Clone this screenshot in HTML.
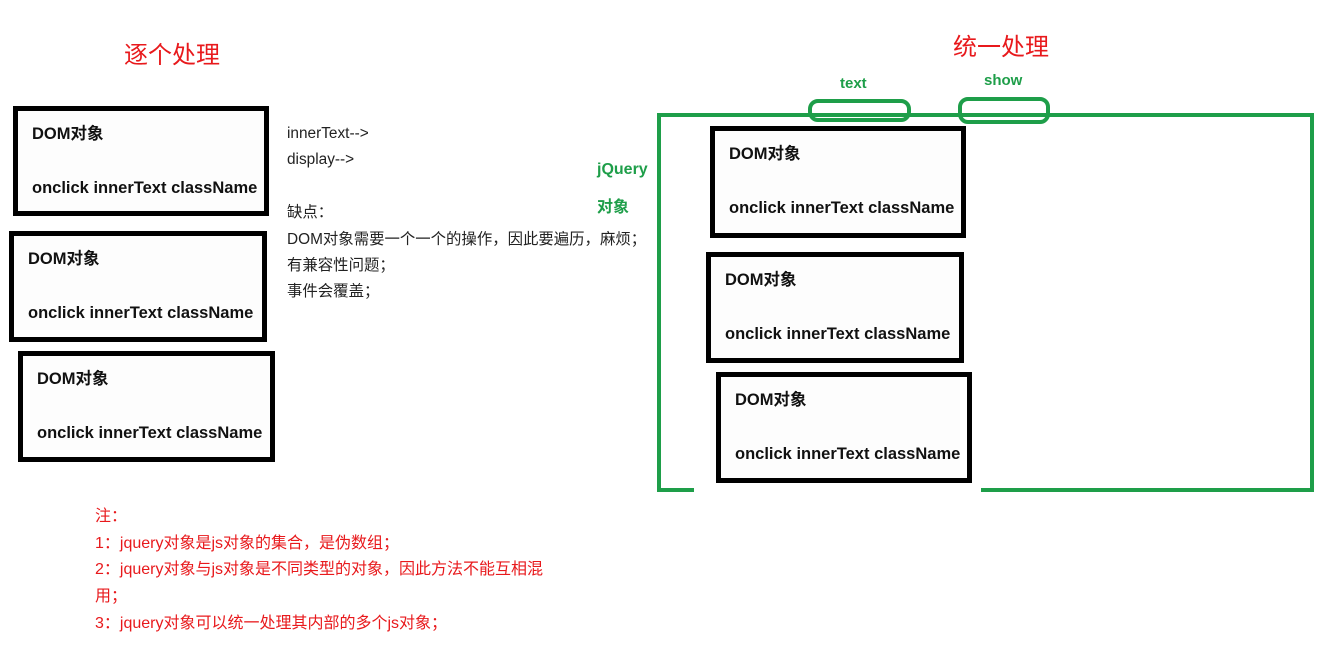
<!DOCTYPE html>
<html><head><meta charset="utf-8"><style>
body{margin:0;width:1329px;height:671px;background:#fff;position:relative;overflow:hidden;font-family:"Liberation Sans","Noto Sans CJK SC",sans-serif}
.a{position:absolute;white-space:nowrap}
.box{position:absolute;border:5px solid #000;box-sizing:border-box;background:#fdfdfd}
.box b{position:absolute;left:14px;font-size:16.5px;color:#111}
.r{color:#e8191c}
.g{color:#1e9e49;font-weight:bold}
.t{font-size:15.4px;color:#222}
</style></head><body>
<div class="a r" style="left:124px;top:35px;font-size:24px">逐个处理</div>
<div class="a r" style="left:953px;top:27px;font-size:24px">统一处理</div>

<div class="box" style="left:13px;top:106px;width:256px;height:110px"><b style="top:9px">DOM对象</b><b style="top:68px">onclick innerText className</b></div>
<div class="box" style="left:9px;top:231px;width:258px;height:111px"><b style="top:9px">DOM对象</b><b style="top:68px">onclick innerText className</b></div>
<div class="box" style="left:18px;top:351px;width:257px;height:111px"><b style="top:9px">DOM对象</b><b style="top:68px">onclick innerText className</b></div>

<div class="a t" style="left:287px;top:121px;line-height:26.4px">innerText--><br>display--><br><br>缺点：<br>DOM对象需要一个一个的操作，因此要遍历，麻烦；<br>有兼容性问题；<br>事件会覆盖；</div>

<div class="a g" style="left:597px;top:151px;font-size:16px;line-height:38px">jQuery<br>对象</div>

<svg class="a" style="left:0;top:0" width="1329" height="671">
<g fill="none" stroke="#1e9e49" stroke-width="4">
<polyline points="694,490 659,490 659,115 1312,115 1312,490 981,490"/>
<rect x="810" y="101" width="99" height="19" rx="8"/>
<rect x="960" y="99" width="88" height="23" rx="8"/>
</g></svg>
<div class="a g" style="left:840px;top:75px;font-size:15px">text</div>
<div class="a g" style="left:984px;top:72px;font-size:15px">show</div>

<div class="box" style="left:710px;top:126px;width:256px;height:112px"><b style="top:9px">DOM对象</b><b style="top:68px">onclick innerText className</b></div>
<div class="box" style="left:706px;top:252px;width:258px;height:111px"><b style="top:9px">DOM对象</b><b style="top:68px">onclick innerText className</b></div>
<div class="box" style="left:716px;top:372px;width:256px;height:111px"><b style="top:9px">DOM对象</b><b style="top:68px">onclick innerText className</b></div>

<div class="a r" style="left:95px;top:504px;font-size:16px;line-height:26.7px">注：<br>1：jquery对象是js对象的集合，是伪数组；<br>2：jquery对象与js对象是不同类型的对象，因此方法不能互相混<br>用；<br>3：jquery对象可以统一处理其内部的多个js对象；</div>
</body></html>
